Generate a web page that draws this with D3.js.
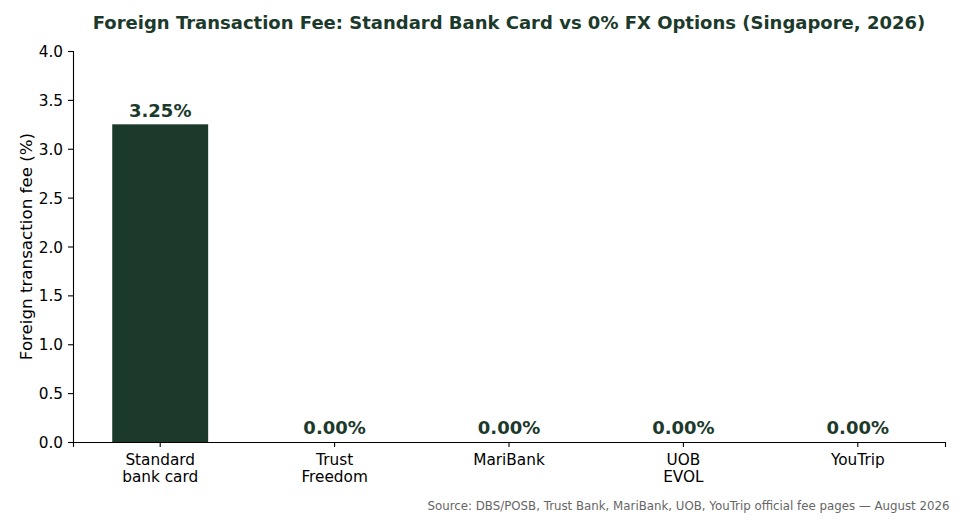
<!DOCTYPE html>
<html>
<head>
<meta charset="utf-8">
<script src="https://cdn.jsdelivr.net/npm/d3@7"></script>
<style>
  body { margin: 0; background: #fff; }
  svg { font-family: "DejaVu Sans", sans-serif; }
</style>
</head>
<body>
<div id="viz"></div>
<script>
// data
const categories = ['Standard\nbank card', 'Trust\nFreedom', 'MariBank', 'UOB\nEVOL', 'YouTrip'];
const fees = [3.25, 0, 0, 0, 0];
const yTicks = [0, 0.5, 1, 1.5, 2, 2.5, 3, 3.5, 4];

const w = 960, h = 520;
const green = '#1c3a2b';

const svg = d3.select('#viz')
  .append('svg')
  .attr('width', w)
  .attr('height', h);

const x = d3.scaleBand()
  .domain(categories)
  .range([73, 945])
  .paddingInner(0.45)
  .paddingOuter(0.225);

const y = d3.scaleLinear()
  .domain([0, 4])
  .range([442, 51]);

// bars
svg.selectAll('rect.bar')
  .data(fees)
  .enter()
  .append('rect')
  .attr('class', 'bar')
  .attr('x', (d, i) => x(categories[i]))
  .attr('width', x.bandwidth())
  .attr('y', d => y(d))
  .attr('height', d => y(0) - y(d))
  .style('fill', green);

// value labels
svg.selectAll('text.val')
  .data(fees)
  .enter()
  .append('text')
  .attr('class', 'val')
  .attr('x', (d, i) => x(categories[i]) + x.bandwidth() / 2)
  .attr('y', d => y(d) - 7.8)
  .attr('text-anchor', 'middle')
  .style('font-size', '18px')
  .style('font-weight', 'bold')
  .style('fill', green)
  .text(d => d.toFixed(2) + '%');

// y axis
const yAxis = svg.append('g')
  .attr('transform', 'translate(73,0)')
  .call(d3.axisLeft(y).tickValues(yTicks).tickFormat(d3.format('.1f')).tickSize(5).tickPadding(5));

// x axis
const xAxis = svg.append('g')
  .attr('transform', 'translate(0,442)')
  .call(d3.axisBottom(x).tickSize(5).tickPadding(4).tickFormat(''));

[yAxis, xAxis].forEach(g => {
  g.attr('font-family', null).attr('font-size', null);
  g.select('.domain').attr('stroke', '#000').attr('stroke-width', 1.1);
  g.selectAll('.tick line').attr('stroke', '#000').attr('stroke-width', 1.1);
  g.selectAll('.tick text').style('font-size', '15.3px').style('fill', '#000');
});
yAxis.selectAll('.tick text').attr('dy', '0.36em');

// multi-line x labels
xAxis.selectAll('.tick').each(function(d) {
  const t = d3.select(this).select('text').attr('dy', null).attr('y', 22.5);
  d.split('\n').forEach((line, i) => {
    t.append('tspan').attr('x', 0).attr('y', 22.5 + i * 17.3).text(line);
  });
});

// y label
svg.append('text')
  .attr('transform', 'translate(32,' + (y(2)) + ') rotate(-90)')
  .attr('text-anchor', 'middle')
  .style('font-size', '16.7px')
  .style('fill', '#000')
  .text('Foreign transaction fee (%)');

// title
svg.append('text')
  .attr('x', 509)
  .attr('y', 29.3)
  .attr('text-anchor', 'middle')
  .style('font-size', '18px')
  .style('font-weight', 'bold')
  .style('fill', green)
  .text('Foreign Transaction Fee: Standard Bank Card vs 0% FX Options (Singapore, 2026)');

// source
svg.append('text')
  .attr('x', 949.5)
  .attr('y', 509.5)
  .attr('text-anchor', 'end')
  .style('font-size', '11.8px')
  .style('fill', '#666')
  .text('Source: DBS/POSB, Trust Bank, MariBank, UOB, YouTrip official fee pages \u2014 August 2026');
</script>
</body>
</html>
